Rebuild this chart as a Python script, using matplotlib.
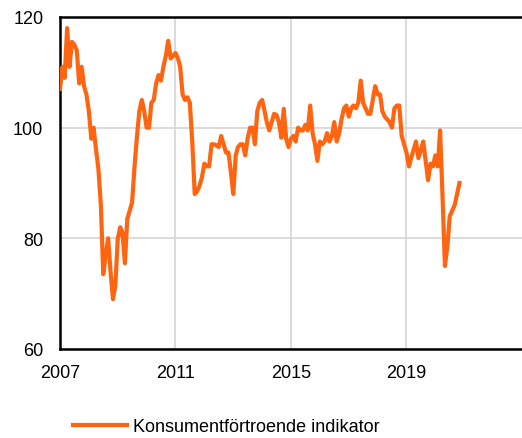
import matplotlib
matplotlib.use("Agg")
import matplotlib.pyplot as plt
import pandas as pd

plt.rcParams["font.family"] = ["Liberation Sans", "DejaVu Sans"]

LINE_COLOR = "#FF6410"
GRID_COLOR = "#d4d4d4"

START_MONTH = "2007-01"
SERIES_LABEL = "Konsumentförtroende indikator"

# monthly values, Jan 2007 onwards
values = [
    107, 111, 109, 118, 111, 115.5, 115, 114, 108, 111, 107.5, 106,        # 2007
    103, 98, 100, 96, 92.5, 86, 73.5, 77, 80, 74, 69, 71.5,                # 2008
    80, 82, 81, 75.5, 83.5, 85, 86.5, 93, 98.5, 103, 105, 103,             # 2009
    100, 100, 104.5, 105, 108, 109.5, 108.5, 111, 113, 115.7, 112.5, 113,  # 2010
    113.5, 112.5, 111, 106, 105, 105.5, 104.5, 97.5, 88, 88.5, 89.5, 91,   # 2011
    93.5, 93, 93, 97, 97, 96.8, 96.5, 98.5, 97, 95.5, 95.5, 92,            # 2012
    88, 95, 96.5, 97, 97, 95, 98, 100, 100, 97, 103, 104.5,                # 2013
    105, 103, 101, 99.5, 101, 102.5, 102.3, 101, 98.2, 103.4, 98, 96.5,    # 2014
    98, 98.5, 97.5, 100, 99.5, 99.5, 100.5, 99.5, 104, 99, 97, 94,         # 2015
    97.5, 97, 97.5, 99, 97.5, 98.5, 101, 97.5, 99, 101.5, 103.5, 104,      # 2016
    102, 103.5, 104, 103.5, 104.5, 108.5, 104.5, 103.5, 102.5, 102.5, 105, 107.5,  # 2017
    106, 106, 103, 102, 101.5, 101, 100, 103.5, 104, 104, 98.5, 97,        # 2018
    95.5, 93, 94.5, 96, 97.5, 94.5, 96, 97.5, 94, 90.5, 93.5, 93,          # 2019
    95, 93, 99.5, 87.5, 75, 78.5, 84, 85, 86, 88, 90,                      # 2020
]

tick_years = [2007, 2011, 2015, 2019]
y_ticks = [60, 80, 100, 120]

dates = pd.date_range(START_MONTH, periods=len(values), freq="MS")

fig = plt.figure(figsize=(5.22, 4.39), dpi=100)
ax = fig.add_axes([60 / 522, 1 - 350 / 439, 462 / 522, 332 / 439])

ax.plot(dates, values, color=LINE_COLOR, lw=3, label=SERIES_LABEL,
        solid_joinstyle="round", zorder=3)

ax.set_xlim(pd.Timestamp("2007-01-01"), pd.Timestamp("2023-01-01"))
ax.set_ylim(60, 120)
ax.set_xticks([pd.Timestamp(f"{y}-01-01") for y in tick_years])
ax.set_xticklabels([str(y) for y in tick_years])
ax.set_yticks(y_ticks)

ax.grid(True, color=GRID_COLOR, lw=1.2, zorder=0)
ax.tick_params(length=0, labelsize=13)
ax.tick_params(axis="y", pad=12)
ax.tick_params(axis="x", pad=11)

for side in ["left", "bottom", "top"]:
    ax.spines[side].set_linewidth(1.8)
    ax.spines[side].set_color("black")
ax.spines["right"].set_visible(False)

fig.legend(loc="center left", bbox_to_anchor=(73 / 522, 1 - 428 / 439),
           frameon=False, fontsize=13, handlelength=3.0, handletextpad=0.3,
           borderpad=0, borderaxespad=0)

fig.savefig("out.png", dpi=100)
